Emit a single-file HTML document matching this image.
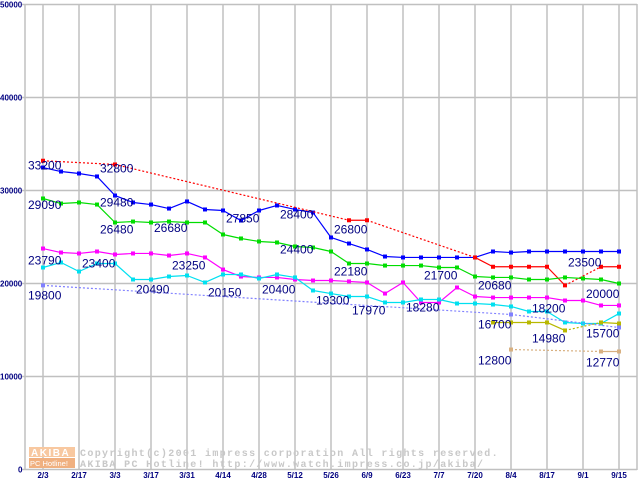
<!DOCTYPE html>
<html><head><meta charset="utf-8"><style>
body{margin:0;background:#fff;width:640px;height:480px;overflow:hidden}
svg{display:block}
.lbl{font-family:"Liberation Sans",sans-serif;font-size:12px;fill:#000080}
.tk{font-family:"Liberation Sans",sans-serif;font-size:8px;font-weight:bold;fill:#000080}
.cp{font-family:"Liberation Mono",monospace;font-size:10px;fill:#c8c8c8;font-weight:bold;letter-spacing:1.35px}
</style></head><body>
<svg id="chart" width="640" height="480" xmlns="http://www.w3.org/2000/svg"></svg>
<script>
const xLabels=["2/3","2/17","3/3","3/17","3/31","4/14","4/28","5/12","5/26","6/9","6/23","7/7","7/20","8/4","8/17","9/1","9/15"];
const yTicks=[0,10000,20000,30000,40000,50000];
const N=null;
const sBlue=[32470,32040,31830,31510,29460,28710,28490,28060,28820,27960,27850,26770,27850,28390,27960,27630,24950,24300,23660,22900,22800,22800,22800,22800,22800,23440,23330,23440,23440,23440,23440,23440,23440];
const sRed=[33200,N,N,N,32800,N,N,N,N,N,N,N,N,N,N,N,N,26800,26800,N,N,N,N,N,22800,21800,21800,21800,21800,19800,N,21800,21800];
const sGreen=[29140,28600,28710,28490,26560,26660,26560,26660,26560,26560,25270,24840,24520,24410,23980,23870,23440,22150,22150,21930,21930,21930,21720,21720,20750,20650,20650,20430,20430,20650,20540,20430,20000];
const sMagenta=[23760,23330,23230,23440,23120,23230,23230,23010,23230,22800,21500,20750,20650,20650,20430,20320,20320,20220,20110,18920,20110,17960,17960,19570,18600,18490,18490,18490,18490,18170,18170,17640,17640];
const sCyan=[21720,22260,21290,22150,22150,20430,20430,20750,20860,20110,20970,20970,20540,20970,20650,19250,18920,18600,18600,17960,17960,18280,18280,17850,17850,17740,17530,16990,16990,15810,15700,15700,16770];
const sOlive=[N,N,N,N,N,N,N,N,N,N,N,N,N,N,N,N,N,N,N,N,N,N,N,N,N,15810,15810,15810,15810,14950,N,15810,15700];
const sLav=[19800,N,N,N,N,N,N,N,N,N,N,N,N,N,N,N,N,N,N,N,N,N,N,N,N,N,16670,N,N,N,N,N,15270];
const sTan=[N,N,N,N,N,N,N,N,N,N,N,N,N,N,N,N,N,N,N,N,N,N,N,N,N,N,12900,N,N,N,N,12690,12690];
const labelText=["33200","32800","29090","29480","26480","26680","27850","28400","24400","23790","23400","23250","20490","20150","20400","19800","19300","26800","22180","17970","18280","21700","20680","16700","12800","18200","14980","23500","20000","15700","12770"];
const labelIdx=[0,4,0,4,4,7,11,14,14,0,3,8,6,10,13,0,16,17,17,18,21,22,25,25,25,28,28,30,31,31,31];
const labelVal=[32780,32500,28550,28820,25890,26080,27100,27530,23760,22580,22260,22050,19470,19140,19470,18810,18280,25920,21390,17210,17530,20970,19890,15700,11830,17420,14190,22370,19000,14730,11610];
const series=[
 {n:"blue",d:sBlue,c:"#0000ff"},{n:"red",d:sRed,c:"#ff0000"},{n:"green",d:sGreen,c:"#00dd00"},
 {n:"magenta",d:sMagenta,c:"#ff00ff"},{n:"cyan",d:sCyan,c:"#00e0f0"},{n:"olive",d:sOlive,c:"#b8b800"},
 {n:"lavender",d:sLav,c:"#8080ff"},{n:"tan",d:sTan,c:"#d8b080"}];
const X=i=>43+18*i;
const Y=v=>469.5-v*93/10000;
const svg=document.getElementById('chart');
const NS="http://www.w3.org/2000/svg";
function mk(t,a,p){const e=document.createElementNS(NS,t);for(const k in a)e.setAttribute(k,a[k]);(p||svg).appendChild(e);return e;}
const g=mk('g',{stroke:'#c0c0c0','stroke-width':1.5});


for(let k=0;k<=16;k++)mk('line',{x1:X(2*k),x2:X(2*k),y1:4,y2:470},g);
mk('line',{x1:25,x2:25,y1:4,y2:470},g);
mk('line',{x1:637,x2:637,y1:4,y2:470},g);
yTicks.forEach(v=>mk('line',{x1:22,x2:637,y1:Y(v),y2:Y(v)},g));
yTicks.forEach(v=>{const t=mk('text',{x:v?0:18,y:Y(v)+3,class:'tk'});t.textContent=v;

});
xLabels.forEach((s,k)=>{const t=mk('text',{x:X(2*k),y:478,class:'tk','text-anchor':'middle','font-weight':'normal'});t.textContent=s;

});
const lg=mk('g',{});


mk('rect',{x:29,y:447,width:46,height:10,fill:'#f8c8a0'},lg);
mk('rect',{x:29,y:458,width:46,height:10,fill:'#f0b080'},lg);
let t=mk('text',{x:31,y:456,'font-family':'Liberation Sans',"font-size":"10",fill:'#fff','font-weight':'bold','letter-spacing':'1.5'},lg);t.textContent='AKIBA';
t=mk('text',{x:30,y:466,'font-family':'Liberation Sans',"font-size":"7.5",fill:'#fff'},lg);t.textContent='PC Hotline!';
t=mk('text',{x:80,y:456,class:'cp'});t.textContent='Copyright(c)2001 impress corporation All rights reserved.';


t=mk('text',{x:80,y:467,class:'cp'});t.textContent='AKIBA PC Hotline!  http://www.watch.impress.co.jp/akiba/';


series.forEach(s=>{
 const sg=mk('g',{});
 
 
 let prev=-1;
 s.d.forEach((v,i)=>{ if(v==null)return;
  if(prev>=0){const a={x1:X(prev),y1:Y(s.d[prev]),x2:X(i),y2:Y(v),stroke:s.c,'stroke-width':1.2};
   if(i-prev>1)a['stroke-dasharray']='2,2';
   const l=mk('line',a,sg);
   
   }
  prev=i;});
 s.d.forEach((v,i)=>{ if(v==null)return;
  const r=mk('rect',{x:X(i)-2,y:Y(v)-2,width:4,height:4,fill:s.c},sg);
  
  });
});
labelText.forEach((s,k)=>{const t=mk('text',{x:X(labelIdx[k])-15,y:Y(labelVal[k])+5,class:'lbl'});t.textContent=s;

});
</script>
</body></html>
